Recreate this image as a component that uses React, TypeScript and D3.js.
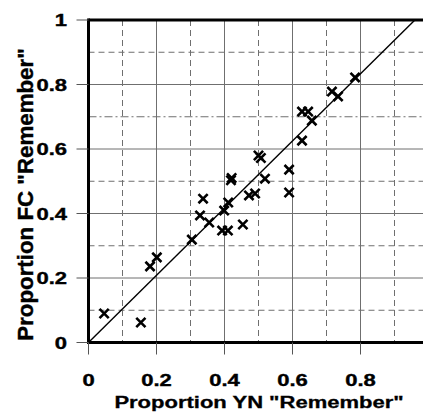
import React from "react";
import * as d3 from "d3";

const yn = [0.046, 0.154, 0.181, 0.201, 0.304, 0.328, 0.337, 0.355, 0.393, 0.41, 0.399, 0.411, 0.419, 0.421, 0.454, 0.472, 0.49, 0.5, 0.507, 0.519, 0.59, 0.59, 0.628, 0.628, 0.646, 0.657, 0.716, 0.734, 0.784];
const fc = [0.09, 0.062, 0.236, 0.264, 0.319, 0.394, 0.446, 0.372, 0.347, 0.347, 0.409, 0.434, 0.503, 0.51, 0.366, 0.456, 0.462, 0.58, 0.572, 0.508, 0.536, 0.465, 0.626, 0.716, 0.716, 0.688, 0.778, 0.763, 0.822];
const xTicks = [0, 0.2, 0.4, 0.6, 0.8];
const yTicks = [0, 0.2, 0.4, 0.6, 0.8, 1];
const xTickLabels = ["0", "0.2", "0.4", "0.6", "0.8"];
const yTickLabels = ["0", "0.2", "0.4", "0.6", "0.8", "1"];
const gridVals = [0.1, 0.2, 0.3, 0.4, 0.5, 0.6, 0.7, 0.8, 0.9];
const diagonal: [number, number][] = [[0, 0], [0.96, 1]];
const xTitle = 'Proportion YN "Remember"';
const yTitle = 'Proportion FC "Remember"';

const W = 423;
const H = 415;
const FONT = "'Liberation Sans', Arial, Helvetica, sans-serif";

export default function App() {
  const x = d3.scaleLinear().domain([0, 1]).range([88.5, 428.5]);
  const y = d3.scaleLinear().domain([0, 1]).range([342.5, 20]);
  const line = d3.line<[number, number]>().x((d) => x(d[0])).y((d) => y(d[1]));
  const s = 4.6;
  const gridStyle = (v: number) => {
    const k = Math.round(v * 10);
    if (k % 2 === 0) return undefined;
    return "6,4";
  };
  return (
    <svg width={W} height={H} style={{ position: "absolute", left: 0, top: 0, background: "#fff" }}>
      <rect width={W} height={H} fill="#fff" />
      {gridVals.map((v) => (
        <line key={"gv" + v} x1={x(v)} x2={x(v)} y1={y(1)} y2={y(0)} stroke="#6f6f6f" strokeWidth={1} strokeDasharray={gridStyle(v)} />
      ))}
      {gridVals.map((v) => (
        <line key={"gh" + v} x1={x(0)} x2={W} y1={y(v)} y2={y(v)} stroke="#6f6f6f" strokeWidth={1} strokeDasharray={Math.round(v * 10) === 7 ? "8,3,2,3" : gridStyle(v)} />
      ))}
      <path d={line(diagonal) || ""} stroke="#000" strokeWidth={1.4} fill="none" />
      {yn.map((xv, i) => {
        const cx = x(xv);
        const cy = y(fc[i]);
        return (
          <path key={"m" + i} d={`M${cx - s},${cy - s}L${cx + s},${cy + s}M${cx - s},${cy + s}L${cx + s},${cy - s}`} stroke="#000" strokeWidth={2.6} fill="none" />
        );
      })}
      <line x1={x(0)} x2={W} y1={y(1)} y2={y(1)} stroke="#000" strokeWidth={3} />
      <line x1={x(0) - 1} x2={W} y1={y(0)} y2={y(0)} stroke="#000" strokeWidth={3} />
      <line x1={x(0)} x2={x(0)} y1={y(1) - 1.5} y2={y(0) + 1.5} stroke="#000" strokeWidth={3} />
      {yTicks.map((v, i) => (
        <g key={"yt" + v}>
          <line x1={x(0) - 12} x2={x(0)} y1={y(v)} y2={y(v)} stroke="#555" strokeWidth={1} />
          <text transform={`translate(67,${y(v) + 6.3}) scale(1,0.78)`} textAnchor="end" fontFamily={FONT} fontWeight="bold" fontSize={22} fill="#000" stroke="#000" strokeWidth={0.5}>
            {yTickLabels[i]}
          </text>
        </g>
      ))}
      {xTicks.map((v, i) => (
        <g key={"xt" + v}>
          <line x1={x(v)} x2={x(v)} y1={y(0)} y2={y(0) + 12} stroke="#555" strokeWidth={1} />
          <text transform={`translate(${x(v)},385.5) scale(1,0.78)`} textAnchor="middle" fontFamily={FONT} fontWeight="bold" fontSize={22} fill="#000" stroke="#000" strokeWidth={0.5}>
            {xTickLabels[i]}
          </text>
        </g>
      ))}
      <text transform="translate(259,407.5) scale(1,0.78)" textAnchor="middle" fontFamily={FONT} fontWeight="bold" fontSize={22} fill="#000" stroke="#000" strokeWidth={0.4}>
        {xTitle}
      </text>
      <text transform="translate(32.5,194.5) rotate(-90)" textAnchor="middle" fontFamily={FONT} fontWeight="bold" fontSize={22.3} fill="#000" stroke="#000" strokeWidth={0.4}>
        {yTitle}
      </text>
    </svg>
  );
}
